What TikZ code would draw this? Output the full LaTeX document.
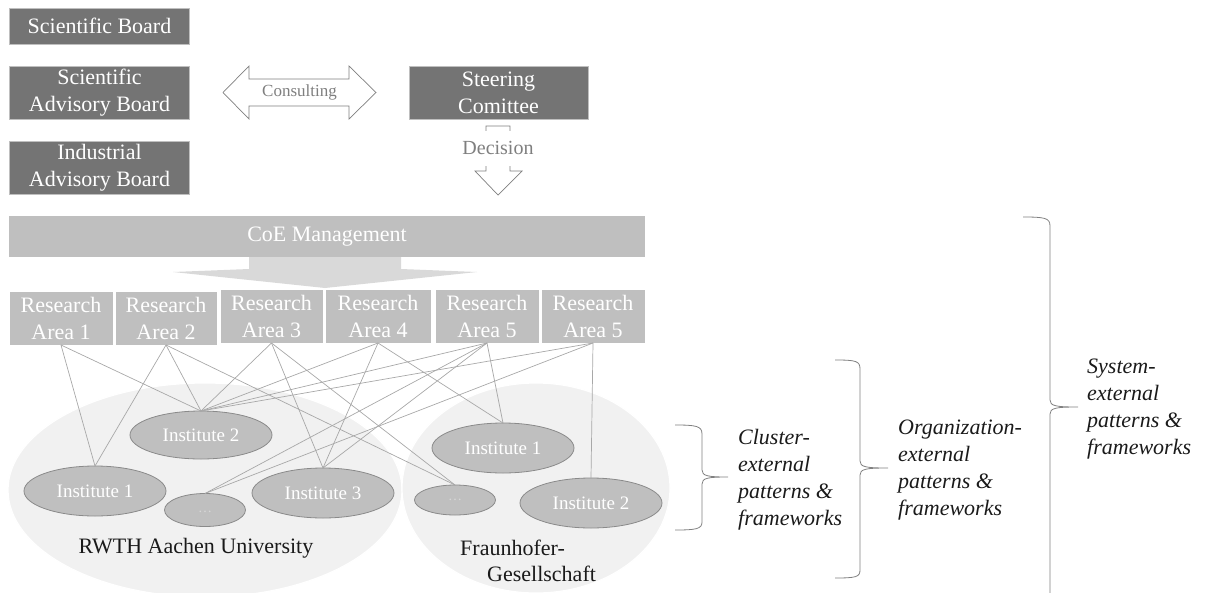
\documentclass[tikz,border=0pt]{standalone}
\usepackage{fontspec}
\setmainfont{Liberation Serif}
\usetikzlibrary{shapes.geometric}
\definecolor{darkfill}{HTML}{747474}
\definecolor{midfill}{HTML}{BFBFBF}
\definecolor{lightfill}{HTML}{D9D9D9}
\definecolor{bgfill}{HTML}{F1F1F1}
\definecolor{linegray}{HTML}{A8A8A8}
\definecolor{textgray}{HTML}{7F7F7F}
\definecolor{instborder}{HTML}{8A8A8A}
\definecolor{bracegray}{HTML}{808080}
\definecolor{inktext}{HTML}{1A1A1A}
\begin{document}
\begin{tikzpicture}[x=1pt,y=-1pt,
  boxfont/.style={font=\fontsize{22}{27}\selectfont},
  darkbox/.style={boxfont, draw=midfill, line width=0.6pt, fill=darkfill, text=white, align=center, inner sep=0pt, outer sep=0pt, minimum width=180pt},
  areabox/.style={boxfont, draw=white, line width=0.6pt, fill=midfill, text=white, align=center, inner sep=0pt, outer sep=0pt, minimum height=54pt},
  inst/.style={ellipse, draw=instborder, line width=0.8pt, fill=midfill, text=white, font=\fontsize{19}{22}\selectfont, inner sep=0pt, outer sep=0pt, minimum width=142pt, minimum height=50pt},
  dots/.style={inst, minimum width=81pt, minimum height=33pt},
  org/.style={ellipse, draw=white, line width=1.2pt, fill=bgfill, inner sep=0pt, outer sep=0pt},
  conn/.style={draw=linegray, line width=0.7pt},
  hollow/.style={draw=textgray, line width=0.7pt, fill=white},
  brace/.style={draw=bracegray, line width=0.8pt},
  bracetext/.style={font=\fontsize{22}{27}\selectfont\itshape, text=inktext, align=left, anchor=west, inner sep=0pt}
]
\path[use as bounding box] (0,0) rectangle (1208,592);
\clip (0,0) rectangle (1208,592);

% --- top boards ---
\node[darkbox, minimum height=36pt] (sb) at (99.5,26) {Scientific Board};
\node[darkbox, minimum height=53pt] (sab) at (99.5,92.5) {\raisebox{-1.5pt}{\parbox{170pt}{\centering Scientific\\Advisory Board}}};
\node[darkbox, minimum height=53pt] (iab) at (99.5,168) {\raisebox{-1.5pt}{\parbox{170pt}{\centering Industrial\\Advisory Board}}};
\node[darkbox, minimum height=53pt, minimum width=179pt] (sc) at (498.5,92.5) {\raisebox{-1.5pt}{\parbox{170pt}{\centering Steering\\Comittee}}};

% consulting double arrow
\draw[hollow] (223,92.5) -- (249,66) -- (249,79) -- (349,79) -- (349,66) -- (376,92.5)
  -- (349,119) -- (349,106) -- (249,106) -- (249,119) -- cycle;
\node[text=textgray, font=\fontsize{17}{20}\selectfont, inner sep=0pt] (cons) at (299.5,92) {Consulting};

% decision arrow
\draw[hollow] (486,126) -- (510,126) -- (510,171) -- (522,171) -- (498,195) -- (475,171) -- (486,171) -- cycle;
\node[fill=white, text=textgray, font=\fontsize{20}{24}\selectfont, inner sep=0pt, minimum width=100pt, minimum height=35pt] (dec) at (498,148) {Decision};

% --- CoE management ---
\node[areabox, minimum width=636pt, minimum height=41pt, draw=none] (coe) at (327,236.5) {CoE Management};
\fill[lightfill] (249,257) -- (401,257) -- (401,269) -- (477,272) -- (325,288) -- (173,272) -- (249,269) -- cycle;

% --- research areas ---
\node[areabox, minimum width=104pt] (ra1) at (61,318) {\raisebox{-2pt}{\parbox{100pt}{\centering Research\\Area 1}}};
\node[areabox, minimum width=102pt] (ra2) at (166,318) {\raisebox{-2pt}{\parbox{100pt}{\centering Research\\Area 2}}};
\node[areabox, minimum width=103pt] (ra3) at (271.5,316) {\raisebox{-2pt}{\parbox{100pt}{\centering Research\\Area 3}}};
\node[areabox, minimum width=106pt] (ra4) at (378,316) {\raisebox{-2pt}{\parbox{100pt}{\centering Research\\Area 4}}};
\node[areabox, minimum width=104pt] (ra5) at (487,316) {\raisebox{-2pt}{\parbox{100pt}{\centering Research\\Area 5}}};
\node[areabox, minimum width=104pt] (ra6) at (593,316) {\raisebox{-2pt}{\parbox{100pt}{\centering Research\\Area 5}}};

% --- organisations ---
\node[org, minimum width=394pt, minimum height=214pt] (rwth) at (205,490) {};
\node[org, minimum width=268pt, minimum height=210pt] (fhg) at (536,488) {};
\node[font=\fontsize{22}{26}\selectfont, text=inktext, inner sep=0pt] (rwthl) at (196,548) {RWTH Aachen University};
\node[font=\fontsize{22}{26}\selectfont, text=inktext, align=left, anchor=west, inner sep=0pt] (fhgl) at (460,561) {Fraunhofer-\\\hspace*{27pt}Gesellschaft};

% --- institutes ---
\node[inst] (r1) at (95,491) {Institute 1};
\node[inst, minimum width=142pt, minimum height=48pt] (r2) at (201,435) {Institute 2};
\node[dots] (rd) at (205,510) {\raisebox{-6pt}{\textcolor{midfill!60!white}{\fontsize{14}{14}\selectfont\dots}}};
\node[inst] (r3) at (323,493) {Institute 3};
\node[inst] (f1) at (503,448) {Institute 1};
\node[dots, minimum height=30pt] (fd) at (455,500) {\textcolor{midfill!60!white}{\fontsize{14}{14}\selectfont\dots}};
\node[inst] (f2) at (591,503) {Institute 2};

% --- connectors ---
\draw[conn] (ra1.south) -- (r1.north);
\draw[conn] (ra1.south) -- (r2.north);
\draw[conn] (ra2.south) -- (r1.north);
\draw[conn] (ra2.south) -- (r2.north);
\draw[conn] (ra2.south) -- (fd.north);
\draw[conn] (ra3.south) -- (r2.north);
\draw[conn] (ra3.south) -- (r3.north);
\draw[conn] (ra3.south) -- (fd.north);
\draw[conn] (ra4.south) -- (r2.north);
\draw[conn] (ra4.south) -- (r3.north);
\draw[conn] (ra4.south) -- (f1.north);
\draw[conn] (ra5.south) -- (r2.north);
\draw[conn] (ra5.south) -- (rd.north);
\draw[conn] (ra5.south) -- (r3.north);
\draw[conn] (ra5.south) -- (f1.north);
\draw[conn] (ra6.south) -- (r2.north);
\draw[conn] (ra6.south) -- (rd.north);
\draw[conn] (ra6.south) -- (f2.north);

% --- braces ---
\draw[brace] (675,425) .. controls (696,425) and (702,426) .. (702,434) -- (702,470)
  .. controls (702,476) and (708,477) .. (728,477)
  .. controls (708,477) and (702,478) .. (702,484) -- (702,522)
  .. controls (702,529) and (696,530) .. (675,530);
\node[bracetext] (t1) at (738,480) {Cluster-\\external\\patterns \&\\frameworks};

\draw[brace] (835,360) .. controls (856,360) and (860,361) .. (860,369) -- (860,461)
  .. controls (860,467) and (866,468) .. (888,468)
  .. controls (866,468) and (860,469) .. (860,475) -- (860,570)
  .. controls (860,577) and (856,578) .. (835,578);
\node[bracetext] (t2) at (898,470) {Organization-\\external\\patterns \&\\frameworks};

\draw[brace] (1023,217) .. controls (1045,217) and (1050,218) .. (1050,226) -- (1050,400)
  .. controls (1050,406) and (1056,407) .. (1078,407)
  .. controls (1056,407) and (1050,408) .. (1050,414) -- (1050,600);
\node[bracetext] (t3) at (1087,409) {System-\\external\\patterns \&\\frameworks};
\end{tikzpicture}
\end{document}
